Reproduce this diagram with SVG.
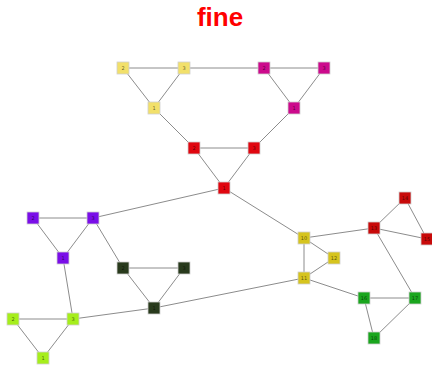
<svg xmlns="http://www.w3.org/2000/svg" width="432" height="365" viewBox="0 0 432 365">
  <style>
    .edge { stroke: #8c8c8c; stroke-width: 1; fill: none; }
    .box { stroke: #d0d0d0; stroke-width: 0.8; }
    .lbl { font-family: "DejaVu Sans", sans-serif; font-size: 5px; text-anchor: middle; dominant-baseline: central; fill: #000; fill-opacity: 0.6; }
    .title { font-family: "Liberation Sans", Arial, sans-serif; font-size: 26px; font-weight: bold; fill: #ff0000; text-anchor: middle; }
  </style>
  <rect width="432" height="365" fill="#ffffff"/>
  <text class="title" x="220" y="26">fine</text>

  <g id="connectors">
    <!-- yellow triangle -->
    <line class="edge" x1="123" y1="68" x2="184" y2="68"/>
    <line class="edge" x1="123" y1="68" x2="154" y2="108"/>
    <line class="edge" x1="184" y1="68" x2="154" y2="108"/>
    <!-- magenta triangle -->
    <line class="edge" x1="264" y1="68" x2="324" y2="68"/>
    <line class="edge" x1="264" y1="68" x2="294" y2="108"/>
    <line class="edge" x1="324" y1="68" x2="294" y2="108"/>
    <!-- red triangle -->
    <line class="edge" x1="194" y1="148" x2="254" y2="148"/>
    <line class="edge" x1="194" y1="148" x2="224" y2="188"/>
    <line class="edge" x1="254" y1="148" x2="224" y2="188"/>
    <!-- purple triangle -->
    <line class="edge" x1="33" y1="218" x2="93" y2="218"/>
    <line class="edge" x1="33" y1="218" x2="63" y2="258"/>
    <line class="edge" x1="93" y1="218" x2="63" y2="258"/>
    <!-- dark green triangle -->
    <line class="edge" x1="123" y1="268" x2="184" y2="268"/>
    <line class="edge" x1="123" y1="268" x2="154" y2="308"/>
    <line class="edge" x1="184" y1="268" x2="154" y2="308"/>
    <!-- lime triangle -->
    <line class="edge" x1="13" y1="319" x2="73" y2="319"/>
    <line class="edge" x1="13" y1="319" x2="43" y2="358"/>
    <line class="edge" x1="73" y1="319" x2="43" y2="358"/>
    <!-- olive triangle -->
    <line class="edge" x1="304" y1="238" x2="334" y2="258"/>
    <line class="edge" x1="304" y1="238" x2="304" y2="278"/>
    <line class="edge" x1="334" y1="258" x2="304" y2="278"/>
    <!-- dark red triangle -->
    <line class="edge" x1="374" y1="228" x2="405" y2="198"/>
    <line class="edge" x1="374" y1="228" x2="427" y2="239"/>
    <line class="edge" x1="405" y1="198" x2="427" y2="239"/>
    <!-- green triangle -->
    <line class="edge" x1="364" y1="298" x2="415" y2="298"/>
    <line class="edge" x1="364" y1="298" x2="374" y2="338"/>
    <line class="edge" x1="415" y1="298" x2="374" y2="338"/>
    <!-- links between groups -->
    <line class="edge" x1="184" y1="68" x2="264" y2="68"/>
    <line class="edge" x1="154" y1="108" x2="194" y2="148"/>
    <line class="edge" x1="294" y1="108" x2="254" y2="148"/>
    <line class="edge" x1="224" y1="188" x2="93" y2="218"/>
    <line class="edge" x1="224" y1="188" x2="304" y2="238"/>
    <line class="edge" x1="93" y1="218" x2="123" y2="268"/>
    <line class="edge" x1="63" y1="258" x2="73" y2="319"/>
    <line class="edge" x1="73" y1="319" x2="154" y2="308"/>
    <line class="edge" x1="154" y1="308" x2="304" y2="278"/>
    <line class="edge" x1="304" y1="238" x2="374" y2="228"/>
    <line class="edge" x1="304" y1="278" x2="364" y2="298"/>
    <line class="edge" x1="374" y1="228" x2="415" y2="298"/>
  </g>

  <g id="yellow-2"><rect class="box" x="117" y="62" width="12" height="12" fill="#f2e06a"/><text class="lbl" x="123" y="68">2</text></g>
  <g id="yellow-3"><rect class="box" x="178" y="62" width="12" height="12" fill="#f2e06a"/><text class="lbl" x="184" y="68">3</text></g>
  <g id="yellow-1"><rect class="box" x="148" y="102" width="12" height="12" fill="#f2e06a"/><text class="lbl" x="154" y="108">1</text></g>

  <g id="magenta-2"><rect class="box" x="258" y="62" width="12" height="12" fill="#cc0a8c"/><text class="lbl" x="264" y="68">2</text></g>
  <g id="magenta-3"><rect class="box" x="318" y="62" width="12" height="12" fill="#cc0a8c"/><text class="lbl" x="324" y="68">3</text></g>
  <g id="magenta-1"><rect class="box" x="288" y="102" width="12" height="12" fill="#cc0a8c"/><text class="lbl" x="294" y="108">1</text></g>

  <g id="red-2"><rect class="box" x="188" y="142" width="12" height="12" fill="#e0060f"/><text class="lbl" x="194" y="148">2</text></g>
  <g id="red-3"><rect class="box" x="248" y="142" width="12" height="12" fill="#e0060f"/><text class="lbl" x="254" y="148">3</text></g>
  <g id="red-1"><rect class="box" x="218" y="182" width="12" height="12" fill="#e0060f"/><text class="lbl" x="224" y="188">1</text></g>

  <g id="purple-2"><rect class="box" x="27" y="212" width="12" height="12" fill="#7a0ee8"/><text class="lbl" x="33" y="218">2</text></g>
  <g id="purple-3"><rect class="box" x="87" y="212" width="12" height="12" fill="#7a0ee8"/><text class="lbl" x="93" y="218">3</text></g>
  <g id="purple-1"><rect class="box" x="57" y="252" width="12" height="12" fill="#7a0ee8"/><text class="lbl" x="63" y="258">1</text></g>

  <g id="darkgreen-2"><rect class="box" x="117" y="262" width="12" height="12" fill="#283a1c"/><text class="lbl" x="123" y="268">2</text></g>
  <g id="darkgreen-3"><rect class="box" x="178" y="262" width="12" height="12" fill="#283a1c"/><text class="lbl" x="184" y="268">3</text></g>
  <g id="darkgreen-1"><rect class="box" x="148" y="302" width="12" height="12" fill="#283a1c"/><text class="lbl" x="154" y="308">1</text></g>

  <g id="lime-2"><rect class="box" x="7" y="313" width="12" height="12" fill="#a6ee1c"/><text class="lbl" x="13" y="319">2</text></g>
  <g id="lime-3"><rect class="box" x="67" y="313" width="12" height="12" fill="#a6ee1c"/><text class="lbl" x="73" y="319">3</text></g>
  <g id="lime-1"><rect class="box" x="37" y="352" width="12" height="12" fill="#a6ee1c"/><text class="lbl" x="43" y="358">1</text></g>

  <g id="node-10"><rect class="box" x="298" y="232" width="12" height="12" fill="#d6c41e"/><text class="lbl" x="304" y="238">10</text></g>
  <g id="node-12"><rect class="box" x="328" y="252" width="12" height="12" fill="#d6c41e"/><text class="lbl" x="334" y="258">12</text></g>
  <g id="node-11"><rect class="box" x="298" y="272" width="12" height="12" fill="#d6c41e"/><text class="lbl" x="304" y="278">11</text></g>

  <g id="node-13"><rect class="box" x="368" y="222" width="12" height="12" fill="#c80a0a"/><text class="lbl" x="374" y="228">13</text></g>
  <g id="node-14"><rect class="box" x="399" y="192" width="12" height="12" fill="#c80a0a"/><text class="lbl" x="405" y="198">14</text></g>
  <g id="node-15"><rect class="box" x="421" y="233" width="12" height="12" fill="#c80a0a"/><text class="lbl" x="427" y="239">15</text></g>

  <g id="node-16"><rect class="box" x="358" y="292" width="12" height="12" fill="#1aa61e"/><text class="lbl" x="364" y="298">16</text></g>
  <g id="node-17"><rect class="box" x="409" y="292" width="12" height="12" fill="#1aa61e"/><text class="lbl" x="415" y="298">17</text></g>
  <g id="node-18"><rect class="box" x="368" y="332" width="12" height="12" fill="#1aa61e"/><text class="lbl" x="374" y="338">18</text></g>
</svg>
